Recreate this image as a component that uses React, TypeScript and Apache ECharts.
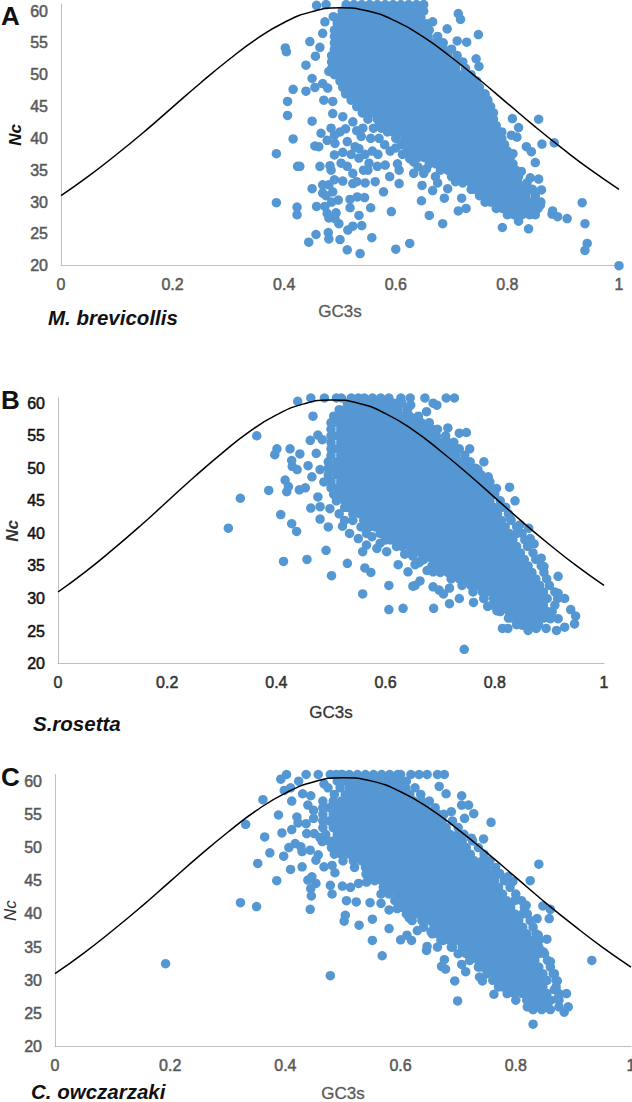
import React, { useEffect, useRef } from "react";
import * as echarts from "echarts";

const xTicks = [0, 0.2, 0.4, 0.6, 0.8, 1];
const curveGC3s = [0, 0.05, 0.1, 0.15, 0.2, 0.25, 0.3, 0.35, 0.4, 0.45, 0.5, 0.55, 0.6, 0.65, 0.7, 0.75, 0.8, 0.85, 0.9, 0.95, 1];
const curveNc = [31, 34.1, 37.5, 41.1, 44.9, 48.7, 52.3, 55.6, 58.2, 59.9, 60.5, 60, 58.4, 55.9, 52.7, 49.2, 45.5, 41.8, 38.3, 35, 32];

type Row = [number, number[]];

const scatterA: number[][] = [[.402,54.2],[.404,53.6],[.446,55.2],[.464,54.3],[.456,52.9],[.439,51.5],[.45,49.4],[.416,47.7],[.439,47.4],[.406,45.8],[.406,43.6],[.45,42.7],[.416,39.9],[.386,37.6],[.424,35.6],[.428,35.6],[.464,35.6],[.45,32.1],[.386,29.9],[.423,29.2],[.423,28],[.458,29.3],[.457,24.9],[.479,25.2],[.48,24.2],[.444,23.7],[.5,24.1],[.513,22.5],[.536,21.9],[.557,24.4],[.6,22.6],[.625,23.5],[.684,26.6],[.66,27.9],[.592,28.5],[.646,30.2],[.687,30.6],[.666,31.8],[.647,32.6],[.606,32.9],[.712,28.6],[.726,29],[.791,26],[.838,25.8],[.82,27],[.881,28.6],[.88,28.1],[.89,27.7],[.907,27.4],[.934,29.9],[.939,26.6],[.943,23.5],[.939,22.4],[1,20],[.712,59.6],[.716,58.7],[.692,57.2],[.666,58.3],[.748,56.3],[.727,55.1],[.71,55.3],[.744,52.5],[.749,51.3],[.762,46.2],[.809,43.1],[.856,43],[.82,41.7],[.862,39.1],[.884,39.3],[.807,40.5],[.817,40.2],[.79,41],[.834,38.7],[.843,37.9],[.81,37.6],[.85,36.2],[.825,34.8],[.841,33.8],[.856,33.6],[.861,31.9],[.859,29.5],[.466,40.8],[.484,41.6],[.462,38.7],[.455,38.8],[.477,39.7],[.491,39.2],[.513,39.5],[.527,38.7],[.534,38.4],[.538,40.3],[.558,38],[.568,37.5],[.482,35.7],[.484,35],[.502,36.1],[.513,35.6],[.523,34.5],[.534,36.9],[.542,35],[.552,36.1],[.567,35.6],[.581,35.8],[.589,34],[.563,33.2],[.505,33.3],[.523,32.9],[.545,33],[.469,32.7],[.48,32.7],[.469,31.4],[.487,31.6],[.497,30.3],[.578,31.6],[.531,30.8],[.544,30.7],[.518,30.4],[.518,29.1],[.555,29.1],[.473,29.3],[.493,28.3],[.477,28.2],[.491,27.4],[.498,26.6],[.534,27.9],[.514,25.6],[.523,26.2],[.539,26.3],[.603,36],[.606,35],[.632,36.3],[.632,34.5],[.65,34.5],[.671,34],[.675,33],[.693,32.1],[.707,33.2],[.718,30.6],[.469,56.5],[.473,58.3],[.488,59.1],[.458,60.9],[.475,61],[.48,50.5],[.469,48.6],[.455,48],[.478,47.9],[.471,46],[.487,45.8],[.487,43.9],[.505,43.4],[.523,42.6],[.541,41.6],[.56,41.6],[.574,41.6],[.49,40.5],[.5,41],[.51,41.5],[.52,37.5],[.505,37.8],[.49,37.4],[.545,37.5],[.555,40],[.53,41.2],[.55,35],[.59,38],[.6,38.5],[.58,39],[.57,40],[.49,33.5],[.53,33.2],[.475,31],[.485,30],[.48,27.5],[.612,37.5],[.625,36.8],[.64,35.5],[.655,35.2]];

const coreA: Row[] = [
[61,[511,525,539,553,567,581,595,609,623,637,650]],
[60,[504,518,532,546,560,574,588,602,616,630,644,650]],
[59,[500,511,525,539,553,567,581,595,609,623,637,645]],
[58,[495,504,518,532,546,560,574,588,602,616,630,644,655]],
[57,[490,497,511,525,539,553,567,581,595,609,623,637,651,660]],
[56,[490,504,518,532,546,560,574,588,602,616,630,644,658,675]],
[55,[490,497,511,525,539,553,567,581,595,609,623,637,651,665,679,685]],
[54,[490,504,518,532,546,560,574,588,602,616,630,644,658,672,686,700]],
[53,[485,497,511,525,539,553,567,581,595,609,623,637,651,665,679,693,710]],
[52,[485,490,504,518,532,546,560,574,588,602,616,630,644,658,672,686,700,714,720]],
[51,[485,497,511,525,539,553,567,581,595,609,623,637,651,665,679,693,707,725]],
[50,[490,504,518,532,546,560,574,588,602,616,630,644,658,672,686,700,714,728,735]],
[49,[500,511,525,539,553,567,581,595,609,623,637,651,665,679,693,707,721,735,745]],
[48,[505,518,532,546,560,574,588,602,616,630,644,658,672,686,700,714,728,742,750]],
[47,[510,525,539,553,567,581,595,609,623,637,651,665,679,693,707,721,735,749,760]],
[46,[520,532,546,560,574,588,602,616,630,644,658,672,686,700,714,728,742,756,765]],
[45,[530,539,553,567,581,595,609,623,637,651,665,679,693,707,721,735,749,763,770]],
[44,[540,546,560,574,588,602,616,630,644,658,672,686,700,714,728,742,756,770,775]],
[43,[550,567,581,595,609,623,637,651,665,679,693,707,721,735,749,763,775]],
[42,[570,574,588,602,616,630,644,658,672,686,700,714,728,742,756,770,780]],
[41,[585,595,609,623,637,651,665,679,693,707,721,735,749,763,777,785]],
[40,[600,616,630,644,658,672,686,700,714,728,742,756,770,784,790]],
[39,[610,623,637,651,665,679,693,707,721,735,749,763,777,791,795]],
[38,[620,630,644,658,672,686,700,714,728,742,756,770,784,798,800]],
[37,[640,651,665,679,693,707,721,735,749,763,777,791,805]],
[36,[660,672,686,700,714,728,742,756,770,784,798,810]],
[35,[680,693,707,721,735,749,763,777,791,805,815]],
[34,[700,714,728,742,756,770,784,798,812,820]],
[33,[720,735,749,763,777,791,805,819,835]],
[32,[735,742,756,770,784,798,812,826,840,845]],
[31,[750,763,777,791,805,819,833,850]],
[30,[760,770,784,798,812,826,840,854,860]],
[29,[780,791,805,819,833,847,855]],
[28,[800,812,826,840,850]],
];

const scatterB: number[][] = [[.312,40.8],[.334,45.4],[.364,55],[.386,46.6],[.397,52.1],[.401,53],[.425,53],[.408,42.9],[.428,41.5],[.437,40.3],[.413,35.7],[.456,36],[.491,37.4],[.53,35.4],[.501,33.5],[.562,34.7],[.573,34],[.558,30.7],[.606,32],[.606,28.3],[.632,28.5],[.623,35.2],[.641,34.1],[.654,32],[.663,32.7],[.688,28.5],[.717,29.2],[.744,22.2],[.787,28.8],[.804,28.1],[.814,25.4],[.824,25.4],[.416,48.2],[.422,47.2],[.419,46.4],[.442,46.7],[.453,47],[.465,48.7],[.428,51.2],[.443,52.2],[.429,50.3],[.438,49.8],[.458,50.4],[.467,58],[.473,52.3],[.462,54.3],[.476,55.1],[.484,54.4],[.48,49.8],[.487,47.9],[.476,45.6],[.463,43.9],[.48,44.1],[.498,43.8],[.48,42.2],[.495,41],[.521,41.1],[.534,40],[.55,39.2],[.565,40],[.565,38.2],[.558,37.2],[.584,37.7],[.602,37.2],[.439,60.3],[.463,60.8],[.488,60.8],[.51,60.8],[.519,60.8],[.537,60.8],[.55,60.8],[.561,60.8],[.576,60.8],[.591,60.8],[.606,60.8],[.628,60.8],[.645,60.8],[.672,60.8],[.711,60.8],[.726,60.8],[.646,59.7],[.687,60],[.694,59.7],[.675,58.7],[.714,56.2],[.735,55.4],[.748,55.5],[.754,53],[.78,51],[.769,49.8],[.788,48.7],[.791,47.9],[.803,46.9],[.827,47.1],[.837,45],[.828,42.3],[.846,41.3],[.862,40.8],[.865,39.2],[.872,38.4],[.885,36.2],[.916,33.4],[.89,34.9],[.928,30],[.916,30.8],[.939,28.3],[.948,27.3],[.946,26.1],[.928,25.6],[.913,25.1],[.894,25.4],[.861,25.1],[.85,25.9],[.876,25.4],[.902,26.9],[.916,26.9],[.65,31.9],[.687,31.8],[.698,31.3],[.706,30.7],[.717,31.6],[.735,30],[.761,29.4],[.78,30],[.676,34.3],[.687,34.1],[.654,35.2],[.661,35.5],[.72,33.9],[.515,43],[.525,42],[.54,42],[.555,41],[.575,39.5],[.59,38.5],[.635,36.8],[.65,36.5],[.665,35.8]];

const coreB: Row[] = [
[60,[530,546,560,574,588,602,616,630]],
[59,[515,525,539,553,567,581,595,609,623,640]],
[58,[505,518,532,546,560,574,588,602,616,630,644,660]],
[57,[500,511,525,539,553,567,581,595,609,623,637,651,665,680]],
[56,[500,518,532,546,560,574,588,602,616,630,644,658,672,686,695]],
[55,[500,511,525,539,553,567,581,595,609,623,637,651,665,679,693,710]],
[54,[500,518,532,546,560,574,588,602,616,630,644,658,672,686,700,714,725]],
[53,[500,511,525,539,553,567,581,595,609,623,637,651,665,679,693,707,721,735]],
[52,[500,518,532,546,560,574,588,602,616,630,644,658,672,686,700,714,728,745]],
[51,[495,511,525,539,553,567,581,595,609,623,637,651,665,679,693,707,721,735,749,755]],
[50,[495,504,518,532,546,560,574,588,602,616,630,644,658,672,686,700,714,728,742,756,765]],
[49,[495,511,525,539,553,567,581,595,609,623,637,651,665,679,693,707,721,735,749,763,775]],
[48,[500,518,532,546,560,574,588,602,616,630,644,658,672,686,700,714,728,742,756,770,780]],
[47,[500,511,525,539,553,567,581,595,609,623,637,651,665,679,693,707,721,735,749,763,777,790]],
[46,[505,518,532,546,560,574,588,602,616,630,644,658,672,686,700,714,728,742,756,770,784,800]],
[45,[510,525,539,553,567,581,595,609,623,637,651,665,679,693,707,721,735,749,763,777,791,810]],
[44,[525,532,546,560,574,588,602,616,630,644,658,672,686,700,714,728,742,756,770,784,798,812,820]],
[43,[540,553,567,581,595,609,623,637,651,665,679,693,707,721,735,749,763,777,791,805,825]],
[42,[560,574,588,602,616,630,644,658,672,686,700,714,728,742,756,770,784,798,812,830]],
[41,[570,581,595,609,623,637,651,665,679,693,707,721,735,749,763,777,791,805,819,840]],
[40,[590,602,616,630,644,658,672,686,700,714,728,742,756,770,784,798,812,826,840,850]],
[39,[600,609,623,637,651,665,679,693,707,721,735,749,763,777,791,805,819,833,855]],
[38,[620,630,644,658,672,686,700,714,728,742,756,770,784,798,812,826,840,860]],
[37,[645,651,665,679,693,707,721,735,749,763,777,791,805,819,833,847,870]],
[36,[670,686,700,714,728,742,756,770,784,798,812,826,840,854,875]],
[35,[685,693,707,721,735,749,763,777,791,805,819,833,847,861,885]],
[34,[700,714,728,742,756,770,784,798,812,826,840,854,868,890]],
[33,[720,735,749,763,777,791,805,819,833,847,861,875,895]],
[32,[740,756,770,784,798,812,826,840,854,868,882,900]],
[31,[760,777,791,805,819,833,847,861,875,889,910]],
[30,[780,798,812,826,840,854,868,882,896,915]],
[29,[795,805,819,833,847,861,875,889,910]],
[28,[810,826,840,854,868,882,896,905]],
[27,[825,833,847,861,875,889,900]],
[26,[840,854,868,880]],
];

const scatterC: number[][] = [[.192,32.5],[.322,41.7],[.35,41.1],[.331,53.5],[.361,57.2],[.388,54.9],[.394,52.2],[.364,51.6],[.373,49.2],[.352,47.6],[.385,45],[.409,46.7],[.397,48.7],[.406,50],[.429,47.1],[.439,45.1],[.446,45.6],[.453,44.6],[.444,43.8],[.445,42.7],[.443,40.7],[.478,44.3],[.481,43],[.506,42],[.523,41.8],[.547,41.7],[.504,39.8],[.502,38.9],[.528,38.3],[.551,39.2],[.58,37.8],[.551,36],[.568,33.7],[.478,30.7],[.6,36.1],[.619,36],[.611,36.8],[.645,34.5],[.646,35.1],[.664,35],[.676,33.1],[.671,32.1],[.678,31.7],[.694,29.9],[.699,26.9],[.706,32.4],[.713,31.3],[.737,30.5],[.742,29.9],[.762,27.9],[.83,23.4],[.932,33],[.884,25.2],[.891,26],[.888,28],[.874,27.4],[.392,60.3],[.402,61],[.423,60],[.436,61],[.457,61],[.398,58.6],[.409,59],[.43,58.1],[.411,57],[.444,57.8],[.439,56.4],[.449,55.6],[.42,54.6],[.422,53.7],[.436,53.6],[.411,52.7],[.449,54.4],[.437,52.1],[.45,52.1],[.46,51.5],[.464,50.9],[.417,50.6],[.427,50.1],[.429,49.4],[.443,49.6],[.457,48.9],[.453,48.1],[.467,47.1],[.481,47.3],[.486,46.2],[.474,59],[.467,59.6],[.478,61],[.488,61],[.499,61],[.632,61],[.646,61],[.664,61],[.676,61],[.618,61],[.667,59.2],[.679,58.1],[.706,57.8],[.706,56.4],[.718,56.4],[.727,55.1],[.711,54.4],[.688,55.4],[.757,53.8],[.744,51.3],[.723,51.4],[.706,51.9],[.84,47.5],[.825,45],[.795,44.9],[.772,46.1],[.786,45.6],[.847,41.2],[.86,40.7],[.818,41.3],[.837,39.3],[.858,39.3],[.839,36.8],[.854,36.2],[.848,34.3],[.86,32.8],[.867,31],[.872,29.9],[.867,28.6],[.499,44.2],[.513,44],[.527,44.6],[.541,44.8],[.551,45.3],[.566,43],[.566,41.6],[.58,40.6],[.594,40.8],[.615,39.4],[.629,37.5],[.653,37.3],[.674,36],[.688,35]];

const coreC: Row[] = [
[61,[497,511,525,539,553,567,581,595,600]],
[60,[490,504,518,532,546,560,574,588,602,610]],
[59,[495,511,525,539,553,567,581,595,609,625]],
[58,[485,504,518,532,546,560,574,588,602,616,635]],
[57,[465,483,497,511,525,539,553,567,581,595,609,623,637,650]],
[56,[465,476,490,504,518,532,546,560,574,588,602,616,630,644,660]],
[55,[465,483,497,511,525,539,553,567,581,595,609,623,637,651,665,675]],
[54,[465,476,490,504,518,532,546,560,574,588,602,616,630,644,658,672,690]],
[53,[465,483,497,511,525,539,553,567,581,595,609,623,637,651,665,679,700]],
[52,[470,490,504,518,532,546,560,574,588,602,616,630,644,658,672,686,700,710]],
[51,[475,483,497,511,525,539,553,567,581,595,609,623,637,651,665,679,693,707,725]],
[50,[480,490,504,518,532,546,560,574,588,602,616,630,644,658,672,686,700,714,735]],
[49,[485,497,511,525,539,553,567,581,595,609,623,637,651,665,679,693,707,721,745]],
[48,[500,518,532,546,560,574,588,602,616,630,644,658,672,686,700,714,728,742,755]],
[47,[520,539,553,567,581,595,609,623,637,651,665,679,693,707,721,735,749,765]],
[46,[540,546,560,574,588,602,616,630,644,658,672,686,700,714,728,742,756,770]],
[45,[555,567,581,595,609,623,637,651,665,679,693,707,721,735,749,763,780]],
[44,[570,574,588,602,616,630,644,658,672,686,700,714,728,742,756,770,790]],
[43,[580,595,609,623,637,651,665,679,693,707,721,735,749,763,777,800]],
[42,[590,602,616,630,644,658,672,686,700,714,728,742,756,770,784,798,810]],
[41,[600,609,623,637,651,665,679,693,707,721,735,749,763,777,791,815]],
[40,[610,616,630,644,658,672,686,700,714,728,742,756,770,784,798,812,820]],
[39,[620,637,651,665,679,693,707,721,735,749,763,777,791,805,825]],
[38,[640,658,672,686,700,714,728,742,756,770,784,798,812,830]],
[37,[655,665,679,693,707,721,735,749,763,777,791,805,819,835]],
[36,[670,686,700,714,728,742,756,770,784,798,812,826,840]],
[35,[690,707,721,735,749,763,777,791,805,819,833,840]],
[34,[700,714,728,742,756,770,784,798,812,826,840,850]],
[33,[720,735,749,763,777,791,805,819,833,855]],
[32,[735,742,756,770,784,798,812,826,840,860]],
[31,[750,763,777,791,805,819,833,847,865]],
[30,[760,770,784,798,812,826,840,854,870]],
[29,[770,777,791,805,819,833,847,870]],
[28,[785,798,812,826,840,854,875]],
[27,[800,819,833,847,861,875]],
[26,[820,826,840,854,875]],
[25.6,[830,845,860]],
];

const BLUE = "#5597D3";
const GREY = "#595959";

const panels = [
  { letter: "A", species: "M. brevicollis", left: 61, width: 558, top: 4, bottom: 265.7, max: 61.1, pts: scatterA, core: coreA, yColor: GREY, xColor: GREY, nameColor: GREY, yNameGap: 37, xNameGap: 37, letterY: 3, speciesX: 48, speciesY: 317 },
  { letter: "B", species: "S.rosetta", left: 58, width: 546, top: 398, bottom: 663.6, max: 60.8, pts: scatterB, core: coreB, yColor: "#111", xColor: "#333", nameColor: "#333", yNameGap: 37, xNameGap: 40, letterY: 387, speciesX: 33, speciesY: 723 },
  { letter: "C", species: "C. owczarzaki", left: 55, width: 576, top: 774.5, bottom: 1046.7, max: 61, pts: scatterC, core: coreC, yColor: GREY, xColor: GREY, nameColor: GREY, yNameGap: 36, xNameGap: 38, letterY: 764, speciesX: 31, speciesY: 1091.5 },
];

const FONT = "'Liberation Sans', Arial, sans-serif";

export default function App() {
  const ref = useRef<HTMLDivElement>(null);
  useEffect(() => {
    const chart = echarts.init(ref.current!, undefined, { renderer: "svg" });
    const option: any = {
      animation: false,
      backgroundColor: "#fff",
      grid: panels.map((p) => ({ left: p.left, width: p.width, top: p.top, height: p.bottom - p.top, outerBoundsMode: "none" })),
      xAxis: panels.map((p, i) => ({
        gridIndex: i, type: "value", min: 0, max: 1, interval: 0.2,
        name: "GC3s", nameLocation: "middle", nameGap: p.xNameGap, nameMoveOverlap: false,
        nameTextStyle: { fontFamily: FONT, fontSize: 17, color: p.nameColor, textBorderColor: p.nameColor, textBorderWidth: 0.3 },
        axisLine: { show: true, onZero: false, lineStyle: { color: "#BFBFBF", width: 1 } },
        axisTick: { show: false }, splitLine: { show: false },
        axisLabel: { fontFamily: FONT, fontSize: 16, color: p.xColor, textBorderColor: p.xColor, textBorderWidth: 0.5, margin: 11, hideOverlap: false, formatter: (v: number) => (xTicks.includes(+v.toFixed(1)) ? String(+v.toFixed(1)) : "") },
      })),
      yAxis: panels.map((p, i) => ({
        gridIndex: i, type: "value", min: 20, max: p.max, interval: 5,
        name: "Nc", nameLocation: "middle", nameGap: p.yNameGap, nameRotate: 90, nameMoveOverlap: false,
        nameTextStyle: { fontFamily: FONT, fontSize: 17, fontWeight: i === 2 ? "normal" : "bold", fontStyle: "italic", color: i === 0 ? "#111" : "#333" },
        axisLine: { show: true, lineStyle: { color: "#BFBFBF", width: 1 } },
        axisTick: { show: false }, splitLine: { show: false },
        axisLabel: { fontFamily: FONT, fontSize: 16, color: p.yColor, textBorderColor: p.yColor, textBorderWidth: 0.5, margin: 13, formatter: (v: number) => (v % 5 === 0 ? String(v) : "") },
      })),
      series: panels.flatMap((p, i) => [
        {
          type: "scatter", xAxisIndex: i, yAxisIndex: i, symbolSize: 9.5, clip: false,
          itemStyle: { color: BLUE, opacity: 1 },
          data: [...p.core.flatMap(([y, xs]) => xs.map((x) => [x / 1000, y])), ...p.pts],
        },
        {
          type: "line", xAxisIndex: i, yAxisIndex: i, smooth: true, showSymbol: false, symbol: "none", z: 5, clip: false,
          lineStyle: { color: "#000", width: 1.5 },
          data: curveGC3s.map((x, k) => [x, curveNc[k]]),
        },
      ]),
      graphic: panels.flatMap((p) => [
        { type: "text", x: 1, y: p.letterY, style: { text: p.letter, fontFamily: FONT, fontSize: 26, fontWeight: "bold", fill: "#111", textVerticalAlign: "top" } },
        { type: "text", x: p.speciesX, y: p.speciesY, style: { text: p.species, fontFamily: FONT, fontSize: 20.5, fontWeight: "bold", fontStyle: "italic", fill: "#111", textVerticalAlign: "middle" } },
      ]),
    };
    chart.setOption(option);
    return () => chart.dispose();
  }, []);
  return <div ref={ref} style={{ position: "absolute", left: 0, top: 0, width: 632, height: 1102 }} />;
}
